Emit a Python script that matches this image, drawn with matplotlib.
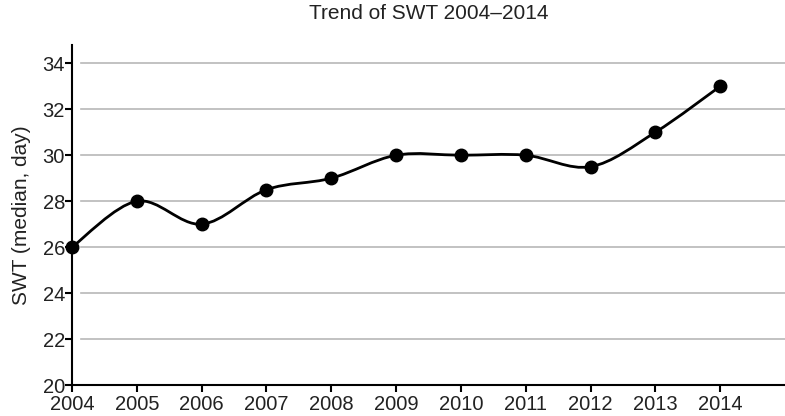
import matplotlib
matplotlib.use("Agg")
import matplotlib.pyplot as plt
from matplotlib.path import Path
from matplotlib.patches import PathPatch

plt.rcParams['font.family'] = ['Liberation Sans', 'DejaVu Sans']

years = [2004, 2005, 2006, 2007, 2008, 2009, 2010, 2011, 2012, 2013, 2014]
swt = [26, 28, 27, 28.5, 29, 30, 30, 30, 29.5, 31, 33]
y_ticks = [20, 22, 24, 26, 28, 30, 32, 34]


def smooth_path(xs, ys):
    # Catmull-Rom style bezier segments through the data points
    verts = [(xs[0], ys[0])]
    codes = [Path.MOVETO]
    n = len(xs)
    for i in range(n - 1):
        x0, y0 = (xs[i - 1], ys[i - 1]) if i > 0 else (xs[i], ys[i])
        x1, y1 = xs[i], ys[i]
        x2, y2 = xs[i + 1], ys[i + 1]
        x3, y3 = (xs[i + 2], ys[i + 2]) if i + 2 < n else (x2, y2)
        c1 = (x1 + (x2 - x0) / 6, y1 + (y2 - y0) / 6)
        c2 = (x2 - (x3 - x1) / 6, y2 - (y3 - y1) / 6)
        verts += [c1, c2, (x2, y2)]
        codes += [Path.CURVE4] * 3
    return Path(verts, codes)


fig = plt.figure(figsize=(7.85, 4.16), dpi=100)
ax = fig.add_axes([0.0917, 0.0745, 0.9083, 0.8175])

for t in y_ticks[1:]:
    ax.axhline(t, xmin=0.012, color='#b8b8b8', lw=1.2, zorder=1)

ax.add_patch(PathPatch(smooth_path(years, swt), fill=False, color='black', lw=2, zorder=3))
ax.plot(years, swt, 'o', color='black', markersize=9, zorder=4, clip_on=False)

ax.set_xlim(2004, 2015)
ax.set_ylim(20, 34.8)
ax.set_xticks(years)
ax.set_yticks(y_ticks)
ax.spines['top'].set_visible(False)
ax.spines['right'].set_visible(False)
ax.spines['left'].set_linewidth(1.5)
ax.spines['bottom'].set_linewidth(1.5)
ax.tick_params(direction='out', length=5, width=1.5, labelsize=14.5, colors='black',
               labelcolor='#222222', pad=0)
ax.tick_params(axis='x', pad=2)
ax.set_ylabel('SWT (median, day)', fontsize=15, color='#222222', labelpad=8)
ax.set_title('Trend of SWT 2004\u20132014', fontsize=15, color='#222222', pad=19)

fig.savefig('out.png', dpi=100)
